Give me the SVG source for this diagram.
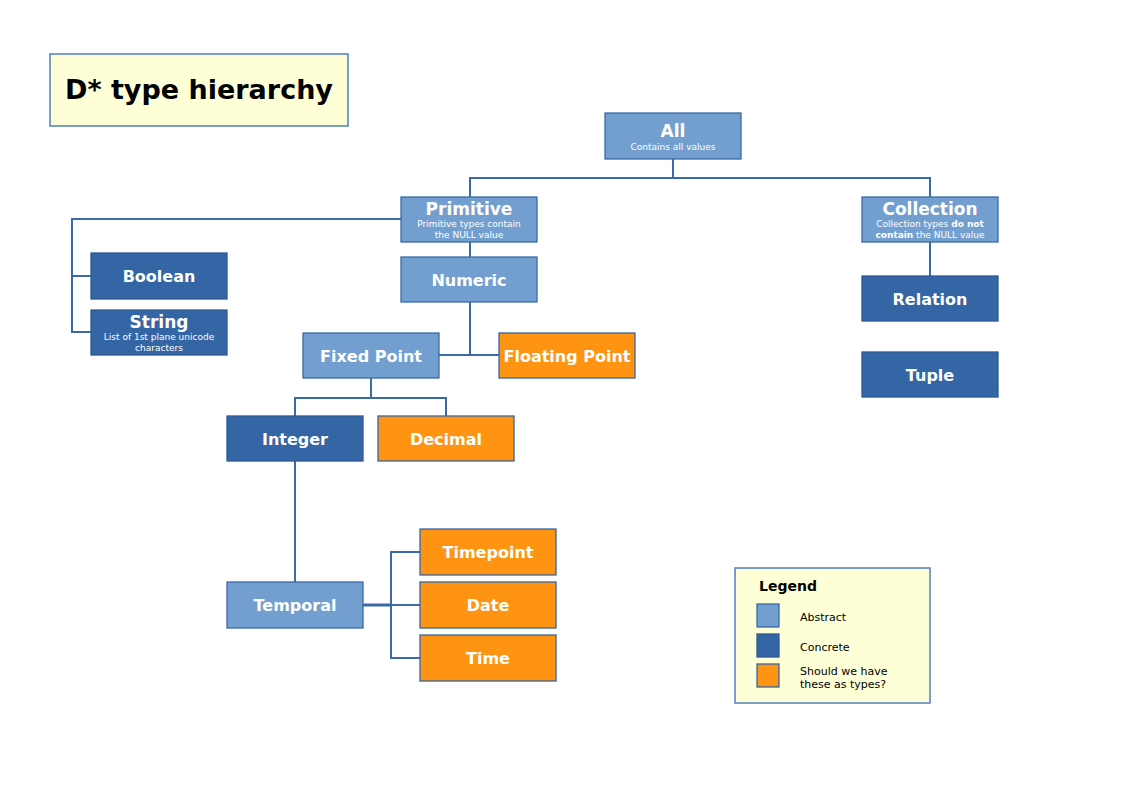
<svg xmlns="http://www.w3.org/2000/svg" width="1123" height="794" viewBox="0 0 1123 794">
<style>
.ab{fill:#729fcf;stroke:#3a6ba8;stroke-width:1.3}
.co{fill:#3465a4;stroke:#2c5a94;stroke-width:1.3}
.or{fill:#ff9412;stroke:#3465a4;stroke-width:1.3}
.t{font-family:"DejaVu Sans",Verdana,sans-serif;font-weight:bold;fill:#ffffff;text-anchor:middle;font-size:16px}
.h{font-size:17px}
.s{font-family:"DejaVu Sans",Verdana,sans-serif;fill:#ffffff;text-anchor:middle;font-size:9px}
.sb{font-weight:bold}
.c{fill:none;stroke:#3a6ba8;stroke-width:2}
.lg{font-family:"DejaVu Sans",Verdana,sans-serif;fill:#000;font-size:11px}
.lt{font-weight:bold;font-size:14px}
</style>
<rect width="1123" height="794" fill="#ffffff"/>
<g id="title">
<rect x="50" y="54" width="298" height="72" fill="#ffffd7" stroke="#4f7fbd" stroke-width="1.5"/>
<text x="199" y="99" font-family="DejaVu Sans,Verdana,sans-serif" font-weight="bold" font-size="27" text-anchor="middle" fill="#000">D* type hierarchy</text>
</g>
<g id="connectors">
<polyline class="c" points="673,159 673,178"/>
<polyline class="c" points="470,197 470,178 930,178 930,197"/>
<polyline class="c" points="401,219 72,219 72,332 91,332"/>
<line class="c" x1="72" y1="276" x2="91" y2="276"/>
<line class="c" x1="470" y1="242" x2="470" y2="257"/>
<polyline class="c" points="470,302 470,355"/>
<line class="c" x1="439" y1="355" x2="499" y2="355"/>
<line class="c" x1="371" y1="378" x2="371" y2="398"/>
<polyline class="c" points="295,416 295,398 446,398 446,416"/>
<line class="c" x1="295" y1="461" x2="295" y2="582"/>
<line class="c" x1="363" y1="605" x2="391" y2="605" style="stroke-width:3"/>
<polyline class="c" points="420,552 391,552 391,658 420,658"/>
<line class="c" x1="391" y1="605" x2="420" y2="605"/>
<line class="c" x1="930" y1="242" x2="930" y2="276"/>
</g>
<g id="all"><rect class="ab" x="605" y="113" width="136" height="46"/><text class="t h" x="673" y="137">All</text><text class="s" x="673" y="150">Contains all values</text></g>
<g id="primitive"><rect class="ab" x="401" y="197" width="136" height="45"/><text class="t h" x="469" y="215">Primitive</text><text class="s" x="469" y="227">Primitive types contain</text><text class="s" x="469" y="238">the NULL value</text></g>
<g id="collection"><rect class="ab" x="862" y="197" width="136" height="45"/><text class="t h" x="930" y="215">Collection</text><text class="s" x="930" y="227">Collection types <tspan class="sb">do not</tspan></text><text class="s" x="930" y="238"><tspan class="sb">contain</tspan> the NULL value</text></g>
<g id="boolean"><rect class="co" x="91" y="253" width="136" height="46"/><text class="t" x="159" y="282">Boolean</text></g>
<g id="string"><rect class="co" x="91" y="310" width="136" height="45"/><text class="t h" x="159" y="328">String</text><text class="s" x="159" y="340">List of 1st plane unicode</text><text class="s" x="159" y="351">characters</text></g>
<g id="numeric"><rect class="ab" x="401" y="257" width="136" height="45"/><text class="t" x="469" y="286">Numeric</text></g>
<g id="fixedpoint"><rect class="ab" x="303" y="333" width="136" height="45"/><text class="t" x="371" y="362">Fixed Point</text></g>
<g id="floatingpoint"><rect class="or" x="499" y="333" width="136" height="45"/><text class="t" x="567" y="362">Floating Point</text></g>
<g id="integer"><rect class="co" x="227" y="416" width="136" height="45"/><text class="t" x="295" y="445">Integer</text></g>
<g id="decimal"><rect class="or" x="378" y="416" width="136" height="45"/><text class="t" x="446" y="445">Decimal</text></g>
<g id="temporal"><rect class="ab" x="227" y="582" width="136" height="46"/><text class="t" x="295" y="611">Temporal</text></g>
<g id="timepoint"><rect class="or" x="420" y="529" width="136" height="46"/><text class="t" x="488" y="558">Timepoint</text></g>
<g id="date"><rect class="or" x="420" y="582" width="136" height="46"/><text class="t" x="488" y="611">Date</text></g>
<g id="time"><rect class="or" x="420" y="635" width="136" height="46"/><text class="t" x="488" y="664">Time</text></g>
<g id="relation"><rect class="co" x="862" y="276" width="136" height="45"/><text class="t" x="930" y="305">Relation</text></g>
<g id="tuple"><rect class="co" x="862" y="352" width="136" height="45"/><text class="t" x="930" y="381">Tuple</text></g>
<g id="legend">
<rect x="735" y="568" width="195" height="135" fill="#ffffd7" stroke="#4f7fbd" stroke-width="1.5"/>
<text class="lg lt" x="759" y="591">Legend</text>
<rect class="ab" x="757" y="604" width="22" height="23"/>
<rect class="co" x="757" y="634" width="22" height="23"/>
<rect class="or" x="757" y="664" width="22" height="23"/>
<text class="lg" x="800" y="621">Abstract</text>
<text class="lg" x="800" y="651">Concrete</text>
<text class="lg" x="800" y="675">Should we have</text>
<text class="lg" x="800" y="688">these as types?</text>
</g>
</svg>
